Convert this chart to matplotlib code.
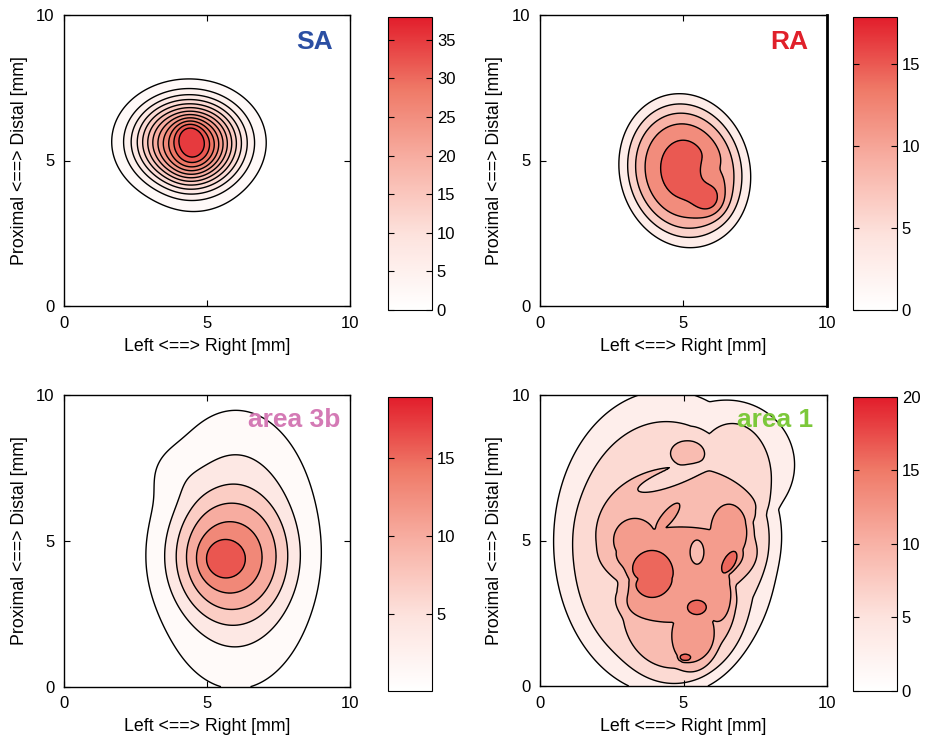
import numpy as np
import matplotlib
matplotlib.use('Agg')
import matplotlib.pyplot as plt
from matplotlib.colors import LinearSegmentedColormap, Normalize
from matplotlib.cm import ScalarMappable

plt.rcParams['font.family'] = ['Liberation Sans', 'DejaVu Sans']

W, H = 926, 741

# sampling grid of the receptive field maps, in mm
grid_x = np.linspace(0, 10, 201)
grid_y = np.linspace(0, 10, 201)

# blobs:
# (layer, x, y, width x, width y, tilt deg, height, sharpness)
# blobs of one layer merge (max), layers add up
sa_blobs = [
    (0, 4.35, 5.65, 1.38, 1.10, 0, 28.0, 2.5),
    (1, 4.65, 4.95, 0.95, 1.00, 0, 5.0, 2),
    (2, 4.60, 5.30, 0.50, 0.70, -25, 4.0, 2),
    (3, 4.36, 5.90, 0.35, 0.38, 0, 5.5, 2),
]
ra_blobs = [
    (0, 5.05, 4.65, 1.70, 2.00, 15, 14.7, 4),
    (1, 5.00, 4.75, 0.50, 0.65, 0, 2.5, 2),
    (2, 5.95, 3.60, 0.38, 0.38, 0, 3.5, 2),
    (3, 5.95, 4.65, 0.28, 0.30, 0, -2.0, 2),
]
b3_blobs = [
    (0, 6.00, 4.70, 1.85, 3.00, 0, 7.5, 3),
    (1, 5.75, 4.40, 1.60, 1.60, 0, 7.0, 3),
    (2, 5.57, 4.37, 0.55, 0.50, 0, 4.5, 2),
    (3, 3.90, 7.30, 0.60, 0.60, 0, 1.0, 2),
]
a1_blobs = [
    # outermost plateau
    (0, 4.40, 5.10, 4.00, 5.20, 0, 4.3, 10),
    (0, 6.50, 7.60, 2.45, 2.30, 0, 4.3, 10),
    # second plateau
    (1, 4.40, 4.60, 3.30, 4.50, 0, 3.0, 10),
    (1, 6.70, 7.10, 1.35, 1.90, 0, 3.0, 10),
    # third plateau with top lobe
    (2, 4.90, 5.20, 2.95, 2.30, 0, 3.0, 8),
    (2, 4.90, 2.60, 2.00, 2.35, 0, 3.0, 8),
    (2, 5.15, 8.00, 0.60, 0.45, 0, 3.0, 8),
    (3, 4.60, 7.15, 1.10, 0.25, 20, -3.0, 6),
    # funnel
    (4, 4.90, 4.50, 2.30, 0.95, 0, 3.0, 8),
    (4, 6.60, 5.30, 0.65, 0.95, 0, 3.0, 8),
    (4, 3.30, 5.00, 0.75, 0.75, 0, 3.0, 8),
    (4, 4.45, 5.80, 0.20, 0.60, -40, 3.0, 6),
    (4, 4.60, 3.00, 1.80, 0.80, 0, 3.0, 8),
    (4, 6.20, 3.20, 0.50, 1.00, 0, 3.0, 8),
    (4, 5.35, 1.70, 0.75, 1.10, 0, 3.0, 8),
    # hot spots
    (5, 3.90, 3.85, 0.72, 0.78, 0, 5.0, 6),
    (5, 5.47, 2.70, 0.32, 0.24, 0, 5.0, 6),
    (5, 6.60, 4.25, 0.20, 0.42, -30, 5.0, 6),
    (5, 5.06, 0.98, 0.20, 0.12, 0, 5.0, 6),
    # dip
    (6, 5.47, 4.60, 0.22, 0.38, 0, -3.0, 6),
]

sa_levels = [2, 5, 8, 11, 14, 17, 20, 23, 26, 29, 32, 35]
ra_levels = [3, 6, 9, 12, 15]
b3_levels = [1, 4, 7, 10, 13, 16]
a1_levels = [3, 6, 9, 12, 16]

sa_range = (0, 38)
ra_range = (0, 17.9)
b3_range = (0.1, 18.9)
a1_range = (0, 20)

sa_ticks = [0, 5, 10, 15, 20, 25, 30, 35]
ra_ticks = [0, 5, 10, 15]
b3_ticks = [5, 10, 15]
a1_ticks = [0, 5, 10, 15, 20]

ticks_mm = [0, 5, 10]

cmap = LinearSegmentedColormap.from_list(
    'wr', ['#ffffff', '#fde3de', '#f8b2a6', '#ef7a68', '#e21d2b'])


def field(blobs):
    X, Y = np.meshgrid(grid_x, grid_y)
    layers = {}
    for lay, cx, cy, sx, sy, ang, amp, p in blobs:
        t = np.deg2rad(ang)
        u = (np.cos(t) * (X - cx) + np.sin(t) * (Y - cy)) / sx
        v = (-np.sin(t) * (X - cx) + np.cos(t) * (Y - cy)) / sy
        r = np.sqrt(u ** 2 + v ** 2)
        b = amp * np.exp(-0.5 * r ** p)
        if lay in layers:
            layers[lay] = np.maximum(layers[lay], b)
        else:
            layers[lay] = b
    Z = sum(layers.values())
    return X, Y, Z


def px_rect(l, t, r, b):
    return [l / W, 1 - b / H, (r - l) / W, (b - t) / H]


fig = plt.figure(figsize=(W / 100, H / 100), dpi=100)

panels = [
    (sa_blobs, sa_levels, sa_range, sa_ticks, 'SA', '#2b4fa3',
     (64.3, 15, 350, 306), (388, 16.7, 432, 310), (9.4, 9.07)),
    (ra_blobs, ra_levels, ra_range, ra_ticks, 'RA', '#e0202a',
     (540, 15, 826.7, 306), (853, 16.7, 896.7, 310), (9.35, 9.07)),
    (b3_blobs, b3_levels, b3_range, b3_ticks, 'area 3b', '#d47ab5',
     (64.3, 395, 350, 686.7), (388, 396.7, 432, 690.7), (9.65, 9.14)),
    (a1_blobs, a1_levels, a1_range, a1_ticks, 'area 1', '#7cc83a',
     (540, 395, 827, 686), (853, 397, 897, 690.7), (9.5, 9.14)),
]

for i, (blobs, levels, vrange, cticks, name, ncolor, arect, crect,
        npos) in enumerate(panels):
    ax = fig.add_axes(px_rect(*arect))
    cax = fig.add_axes(px_rect(*crect))
    norm = Normalize(vmin=vrange[0], vmax=vrange[1])

    X, Y, Z = field(blobs)
    bounds = [min(Z.min(), 0) - 1] + levels + [Z.max() + 1]
    band_cols = [cmap(norm(v)) for v in [vrange[0]] + levels]
    ax.contourf(X, Y, Z, levels=bounds, colors=band_cols)
    ax.contour(X, Y, Z, levels=levels, colors='k', linewidths=1.0)

    ax.set_xlim(0, 10)
    ax.set_ylim(0, 10)
    ax.set_xticks(ticks_mm)
    ax.set_yticks(ticks_mm)
    ax.tick_params(direction='in', top=True, right=True, length=4,
                   labelsize=12, pad=7)
    for sp in ax.spines.values():
        sp.set_linewidth(1.0)
    if i == 1:
        ax.spines['right'].set_linewidth(2.0)
    ax.set_xlabel('Left <==> Right [mm]', fontsize=12.8, labelpad=5)
    ax.set_ylabel('Proximal <==> Distal [mm]', fontsize=12.8, labelpad=6)
    ax.text(npos[0], npos[1], name, ha='right', va='center', fontsize=19,
            fontweight='bold', color=ncolor)

    cb = fig.colorbar(ScalarMappable(norm=norm, cmap=cmap), cax=cax,
                      ticks=cticks)
    cb.outline.set_linewidth(0.8)
    cax.tick_params(direction='in', left=True, right=True, length=4,
                    labelsize=12)

plt.savefig('out.png', dpi=100)
